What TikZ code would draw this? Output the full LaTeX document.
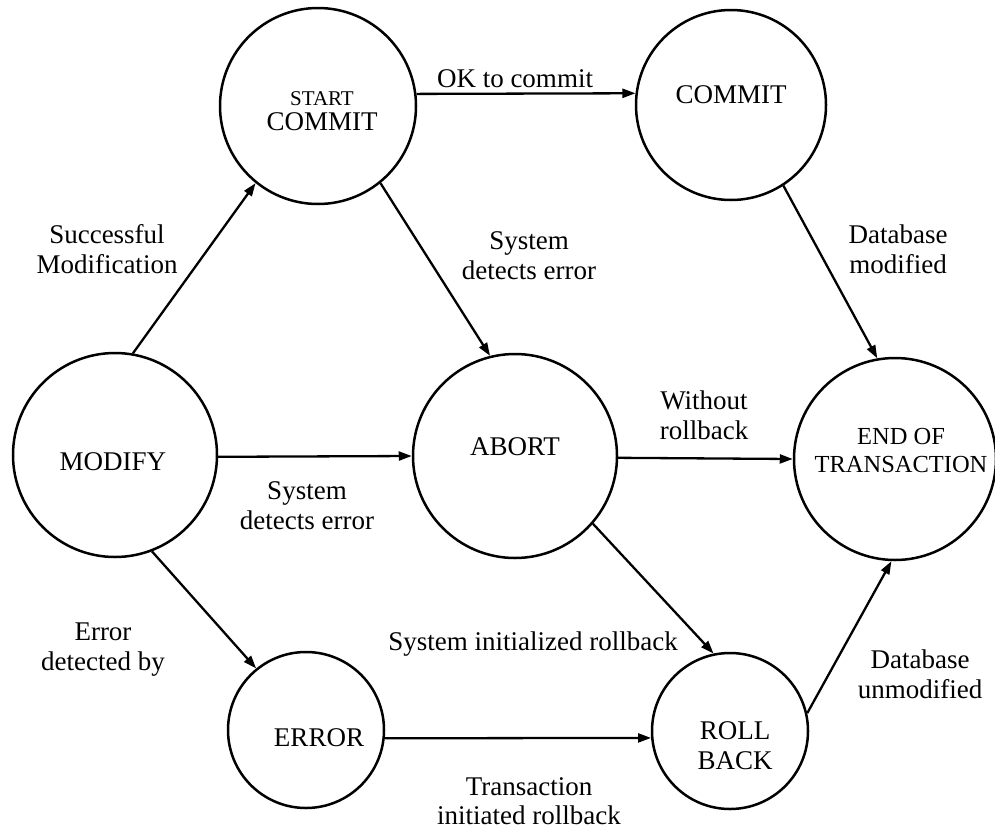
\documentclass[tikz,border=0pt]{standalone}
\usepackage{fontspec}
\setmainfont{Liberation Serif}
\usetikzlibrary{arrows.meta}
\begin{document}
\begin{tikzpicture}[x=1pt,y=-1pt,
  state/.style={circle,draw,line width=2.5pt,inner sep=0pt,minimum size=#1},
  sttext/.style={font=\fontsize{27}{30}\selectfont,align=center,inner sep=0pt},
  lbl/.style={font=\fontsize{27}{30}\selectfont,align=center,inner sep=0pt},
  conn/.style={line width=2.3pt,-{Triangle[length=13pt,width=9pt]}}]
\useasboundingbox (0,0) rectangle (995,833);
% states
\node[state=196pt] (sc)  at (318,106) {};
\node[state=190pt] (cm)  at (731,105) {};
\node[state=204pt] (mod) at (115,455) {};
\node[state=204pt] (ab)  at (515,456) {};
\node[state=202pt] (eot) at (895,459) {};
\node[state=156pt] (err) at (306,730) {};
\node[state=156pt] (rb)  at (730,731) {};
% state texts
\node[sttext,font=\fontsize{27}{25}\selectfont] (sct) at (322,111) {{\fontsize{21}{25}\selectfont START}\\COMMIT};
\node[sttext] (cmt)  at (731,95)  {COMMIT};
\node[sttext] (modt) at (113,462) {MODIFY};
\node[sttext] (abt)  at (515,447) {ABORT};
\node[sttext,font=\fontsize{24.5}{28}\selectfont] (eott) at (901,450) {END OF\\TRANSACTION};
\node[sttext] (errt) at (319,738) {ERROR};
\node[sttext] (rbt)  at (735,746) {ROLL\\BACK};
% connectors
\draw[conn] (mod.80)    -- (sc.231);
\draw[conn] (sc.7)      -- (cm.173);
\draw[conn] (sc.-51)    -- (ab.104);
\draw[conn] (cm.-57.6)  -- (eot.100);
\draw[conn] (mod.-1)    -- (ab.180);
\draw[conn] (ab.-1)     -- (eot.180);
\draw[conn] (ab.-41)    -- (rb.102);
\draw[conn] (mod.-69)   -- (err.129);
\draw[conn] (err.-6)    -- (rb.185);
\draw[conn] (rb.13)     -- (eot.-92);
% labels
\node[lbl] (l1)  at (107,249) {Successful\\Modification};
\node[lbl] (l2)  at (515,79)  {OK to commit};
\node[lbl] (l3)  at (529,256) {System\\detects error};
\node[lbl] (l4)  at (898,249) {Database\\modified};
\node[lbl] (l5)  at (307,506) {System\\detects error};
\node[lbl] (l6)  at (704,415) {Without\\rollback};
\node[lbl] (l7)  at (533,644) {System initialized rollback};
\node[lbl] (l8)  at (103,650) {Error\\detected by};
\node[lbl,font=\fontsize{27}{29}\selectfont] (l9) at (529,801) {Transaction\\initiated rollback};
\node[lbl] (l10) at (920,674) {Database\\unmodified};
\end{tikzpicture}
\end{document}
